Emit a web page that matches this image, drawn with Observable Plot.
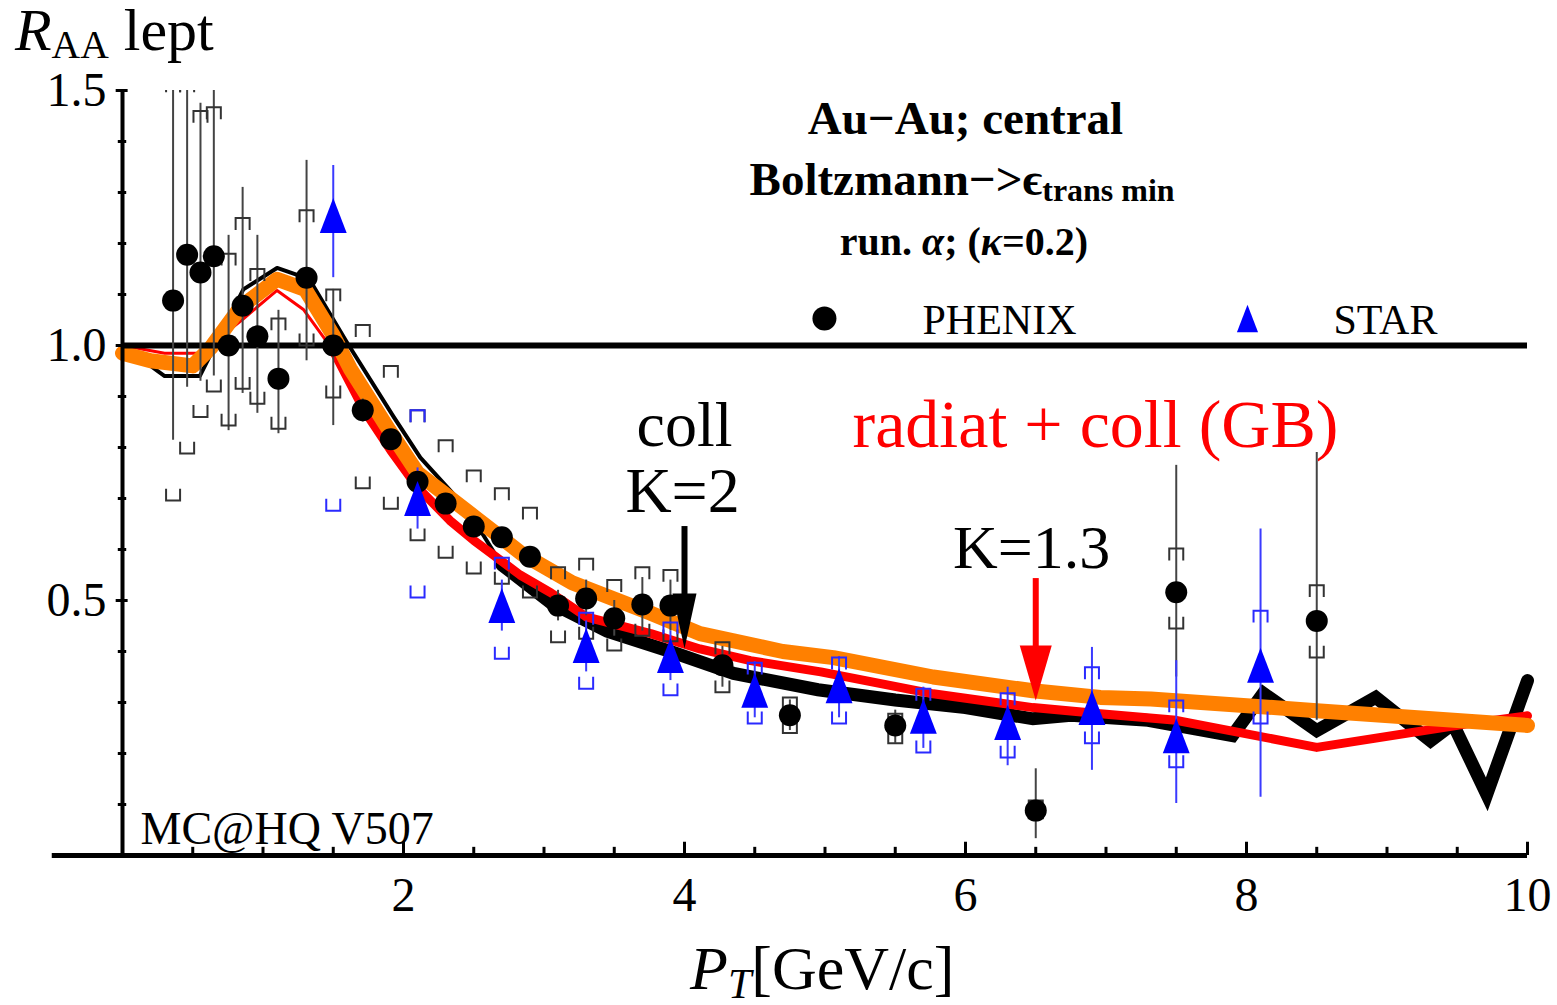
<!DOCTYPE html>
<html>
<head>
<meta charset="utf-8">
<script src="https://cdn.jsdelivr.net/npm/d3@7"></script>
<script src="https://cdn.jsdelivr.net/npm/@observablehq/plot@0.6"></script>
<style>
html,body{margin:0;padding:0;background:#fff;}
#chart{width:1557px;height:1005px;}
</style>
</head>
<body>
<div id="chart"></div>
<script>
// ---------------- data ----------------
// PHENIX (black circles): pT, RAA, statistical low/high, systematic low/high
const phenixX = [0.36,0.46,0.555,0.65,0.755,0.855,0.96,1.11,1.31,1.5,1.71,1.91,2.1,2.3,2.5,2.7,2.9,3.1,3.3,3.5,3.7,3.9,4.27,4.75,5.5,6.5,7.5,8.5];
const phenixY = [1.088,1.178,1.143,1.175,1.0,1.078,1.018,0.935,1.133,1.0,0.873,0.816,0.733,0.69,0.645,0.624,0.586,0.49,0.504,0.465,0.492,0.49,0.373,0.275,0.255,0.088,0.516,0.46];
const phenixStatLo = [0.814,0.918,0.93,0.94,0.833,0.906,0.867,0.827,0.97,0.843,0.85,0.80,0.72,0.68,0.635,0.61,0.575,0.46,0.47,0.43,0.44,0.44,0.33,0.245,0.22,0.033,0.35,0.265];
const phenixStatHi = [1.6,1.6,1.475,1.6,1.216,1.31,1.216,1.069,1.363,1.11,0.895,0.835,0.75,0.70,0.655,0.64,0.60,0.52,0.54,0.50,0.545,0.54,0.41,0.305,0.285,0.17,0.765,0.79];
const phenixSysLo = [0.696,0.788,0.86,0.91,0.843,0.915,0.886,0.837,1.0,0.898,0.72,0.68,0.618,0.584,0.553,0.533,0.506,0.418,0.425,0.402,0.431,0.42,0.32,0.24,0.22,0.073,0.445,0.388];
const phenixSysHi = [1.52,1.52,1.46,1.467,1.18,1.25,1.15,1.053,1.265,1.11,1.04,0.96,0.873,0.814,0.755,0.72,0.682,0.565,0.582,0.54,0.565,0.56,0.418,0.31,0.278,0.108,0.602,0.53];

// STAR (blue triangles)
const starX = [1.5,2.1,2.7,3.3,3.9,4.5,5.1,5.7,6.3,6.9,7.5,8.1];
const starY = [1.255,0.70,0.49,0.412,0.392,0.324,0.333,0.273,0.261,0.29,0.235,0.373];
const starStatLo = [1.133,0.64,0.44,0.36,0.343,0.27,0.27,0.21,0.176,0.167,0.102,0.114];
const starStatHi = [1.353,0.76,0.54,0.46,0.44,0.38,0.39,0.33,0.33,0.408,0.382,0.64];
const starSysLo = [0.676,0.506,0.386,0.327,0.314,0.259,0.259,0.202,0.192,0.22,0.173,0.259];
const starSysHi = [1.83,0.873,0.584,0.476,0.457,0.378,0.388,0.327,0.318,0.369,0.304,0.48];

// model curves
const collX = [0,0.3,0.55,0.86,1.1,1.33,1.6,1.93,2.12,2.45,2.7,3.05,3.45,3.9,4.35,4.95,5.5,6.0,6.48,6.75,7.3,7.9,8.12,8.5,8.92,9.31,9.47,9.71,10];
const collY = [1.0,0.94,0.94,1.11,1.152,1.13,1.005,0.86,0.78,0.68,0.57,0.495,0.44,0.40,0.357,0.325,0.305,0.29,0.268,0.275,0.265,0.235,0.318,0.245,0.31,0.225,0.258,0.12,0.343];
const radX = [0,0.3,0.55,0.85,1.1,1.29,1.5,1.72,1.91,2.1,2.33,2.5,2.83,3.05,3.3,3.76,4.11,4.47,4.97,5.77,6.48,6.96,7.5,8.5,9.57,10];
const radY = [1.0,0.985,0.985,1.05,1.108,1.07,0.99,0.873,0.794,0.722,0.657,0.618,0.55,0.515,0.468,0.435,0.405,0.382,0.36,0.317,0.29,0.278,0.265,0.212,0.258,0.274];
const orangeX = [0,0.2,0.5,0.63,0.84,1.1,1.3,1.5,1.62,1.9,2.1,2.5,2.85,3.2,3.76,4.11,4.7,5.06,5.77,6.48,6.96,7.32,8.5,10];
const orangeY = [0.985,0.97,0.96,0.996,1.075,1.13,1.11,1.02,0.955,0.833,0.75,0.665,0.59,0.535,0.475,0.435,0.40,0.388,0.35,0.323,0.31,0.307,0.284,0.255];

// arrows (pT, start, tip)
const arrowK2 = {x: 4.0, from: 0.645, to: 0.406};
const arrowK13 = {x: 6.5, from: 0.543, to: 0.304};

// axes ticks
const xMajorTicks = [2,4,6,8,10];
const xMinorTicks = [0.5,1,1.5,2.5,3,3.5,4.5,5,5.5,6.5,7,7.5,8.5,9,9.5];
const yMajorTicks = [0.5,1.0,1.5];
const yMinorTicks = [0.1,0.2,0.3,0.4,0.6,0.7,0.8,0.9,1.1,1.2,1.3,1.4];
const xAxisExtent = [-0.5, 10];

// ---------------- build ----------------
const FONT = "'Liberation Serif','Times New Roman',serif";
const rows = (xs, ys) => xs.map((x, i) => ({x, y: ys[i]}));
const phenix = phenixX.map((x, i) => ({x, y: phenixY[i], sLo: phenixStatLo[i], sHi: phenixStatHi[i], yLo: phenixSysLo[i], yHi: phenixSysHi[i]}));
const star = starX.map((x, i) => ({x, y: starY[i], sLo: starStatLo[i], sHi: starStatHi[i], yLo: starSysLo[i], yHi: starSysHi[i]}));
const coll = rows(collX, collY), rad = rows(radX, radY), orange = rows(orangeX, orangeY);

const sym = fn => ({draw(ctx, size) { fn(ctx, Math.sqrt(size / Math.PI)); }});
const triUp = sym((c, r) => { c.moveTo(0, -1.25*r); c.lineTo(0.96*r, 1.25*r); c.lineTo(-0.96*r, 1.25*r); c.closePath(); });
const capTop = sym((c, r) => { c.moveTo(-r, 1.7*r); c.lineTo(-r, 0); c.lineTo(r, 0); c.lineTo(r, 1.7*r); });
const capBot = sym((c, r) => { c.moveTo(-r, -1.7*r); c.lineTo(-r, 0); c.lineTo(r, 0); c.lineTo(r, -1.7*r); });
const head = (w, h) => sym(c => { c.moveTo(0, 0); c.lineTo(-w, -h); c.lineTo(w, -h); c.closePath(); });

// annotation layout (data coordinates)
const notes = [
  {t: "Au\u2212Au; central", x: 6.0, y: 1.445, size: 47, weight: "bold", fill: "black", anchor: "middle"},
  {t: "PHENIX", x: 5.694, y: 1.049, size: 42, weight: "normal", fill: "black", anchor: "start"},
  {t: "STAR", x: 8.619, y: 1.049, size: 42, weight: "normal", fill: "black", anchor: "start"},
  {t: "coll", x: 4.0, y: 0.843, size: 64, weight: "normal", fill: "black", anchor: "middle"},
  {t: "K=2", x: 3.986, y: 0.713, size: 64, weight: "normal", fill: "black", anchor: "middle"},
  {t: "radiat + coll (GB)", x: 6.925, y: 0.843, size: 68, weight: "normal", fill: "#ff0000", anchor: "middle"},
  {t: "K=1.3", x: 6.47, y: 0.603, size: 62, weight: "normal", fill: "black", anchor: "middle"},
  {t: "MC@HQ V507", x: 0.128, y: 0.051, size: 46, weight: "normal", fill: "black", anchor: "start"}
];
const legendPos = {phenix: {x: 4.996, y: 1.053}, star: {x: 8.007, y: 1.053}};

const textMarks = notes.map(n => Plot.text([n], {x: "x", y: "y", text: "t", fontSize: n.size, fontWeight: n.weight, fill: n.fill, textAnchor: n.anchor, fontFamily: FONT}));

const plot = Plot.plot({
  width: 1557, height: 1005,
  marginLeft: 122, marginRight: 30, marginTop: 90, marginBottom: 150,
  x: {domain: [0, 10], label: null},
  y: {domain: [0, 1.5], label: null},
  style: {fontFamily: FONT, background: "white", color: "black", overflow: "visible"},
  marks: [
    // curves
    Plot.line(coll.filter(d => d.x <= 2.7), {x: "x", y: "y", stroke: "black", strokeWidth: 4}),
    Plot.line(coll.filter(d => d.x >= 2.7), {x: "x", y: "y", stroke: "black", strokeWidth: 13, strokeLinejoin: "miter", strokeMiterlimit: 6}),
    Plot.line(rad.filter(d => d.x <= 1.5), {x: "x", y: "y", stroke: "#ff0000", strokeWidth: 3}),
    Plot.line(rad.filter(d => d.x >= 1.5), {x: "x", y: "y", stroke: "#ff0000", strokeWidth: 9}),
    Plot.line(orange, {x: "x", y: "y", stroke: "#ff8000", strokeWidth: 15}),
    // reference line and axes
    Plot.ruleY([1], {stroke: "black", strokeWidth: 6}),
    Plot.ruleY([{y: 0, x1: xAxisExtent[0], x2: xAxisExtent[1]}], {y: "y", x1: "x1", x2: "x2", stroke: "black", strokeWidth: 5}),
    Plot.ruleX([0], {stroke: "black", strokeWidth: 4}),
    Plot.ruleX(xMinorTicks, {x: d => d, y1: 0, y2: 0.016, stroke: "black", strokeWidth: 3}),
    Plot.ruleX(xMajorTicks, {x: d => d, y1: 0, y2: 0.026, stroke: "black", strokeWidth: 3}),
    Plot.ruleY(yMinorTicks, {y: d => d, x1: -0.03, x2: 0.03, stroke: "black", strokeWidth: 3}),
    Plot.ruleY(yMajorTicks, {y: d => d, x1: -0.045, x2: 0.04, stroke: "black", strokeWidth: 3}),
    Plot.axisX({ticks: xMajorTicks, tickSize: 0, tickPadding: 21, fontSize: 48, fontFamily: FONT, tickFormat: d => String(d)}),
    Plot.axisY({ticks: yMajorTicks, tickSize: 0, tickPadding: 16, fontSize: 48, fontFamily: FONT, tickFormat: d3.format(".1f")}),
    // PHENIX error bars
    Plot.ruleX(phenix, {x: "x", y1: "sLo", y2: "sHi", stroke: "#444", strokeWidth: 2, clip: true}),
    Plot.dot(phenix, {x: "x", y: "yHi", symbol: capTop, r: 7, fill: "none", stroke: "#333", strokeWidth: 2, clip: true}),
    Plot.dot(phenix, {x: "x", y: "yLo", symbol: capBot, r: 7, fill: "none", stroke: "#333", strokeWidth: 2, clip: true}),
    // STAR error bars
    Plot.ruleX(star, {x: "x", y1: "sLo", y2: "sHi", stroke: "#3a3aff", strokeWidth: 2, clip: true}),
    Plot.dot(star, {x: "x", y: "yHi", symbol: capTop, r: 7, fill: "none", stroke: "#2a2aff", strokeWidth: 2, clip: true}),
    Plot.dot(star, {x: "x", y: "yLo", symbol: capBot, r: 7, fill: "none", stroke: "#2a2aff", strokeWidth: 2, clip: true}),
    // points
    Plot.dot(phenix, {x: "x", y: "y", r: 11, fill: "black", stroke: "none"}),
    Plot.dot(star, {x: "x", y: "y", symbol: triUp, r: 14, fill: "#0000ff", stroke: "none"}),
    // legend
    Plot.dot([legendPos.phenix], {x: "x", y: "y", r: 12, fill: "black", stroke: "none"}),
    Plot.dot([legendPos.star], {x: "x", y: "y", symbol: triUp, r: 11, fill: "#0000ff", stroke: "none"}),
    // arrows
    Plot.ruleX([arrowK2], {x: "x", y1: "from", y2: d => d.to + 0.05, stroke: "black", strokeWidth: 6}),
    Plot.dot([arrowK2], {x: "x", y: "to", symbol: head(12, 55), r: 10, fill: "black", stroke: "none"}),
    Plot.ruleX([arrowK13], {x: "x", y1: "from", y2: d => d.to + 0.05, stroke: "#ff0000", strokeWidth: 6}),
    Plot.dot([arrowK13], {x: "x", y: "to", symbol: head(16, 55), r: 10, fill: "#ff0000", stroke: "none"}),
    ...textMarks
  ]
});

document.getElementById("chart").appendChild(plot);

// rich text (sub/italic) placed through the plot's own scales
const xs = plot.scale("x"), ys = plot.scale("y");
function rich(parts, {x, y, size, anchor = "start", weight = "normal", subScale = 0.68, subShift = 0.18}) {
  const t = d3.select(plot).append("text")
    .attr("x", xs.apply(x)).attr("y", ys.apply(y))
    .attr("font-family", FONT).attr("font-size", size).attr("font-weight", weight)
    .attr("text-anchor", anchor).attr("fill", "black");
  let shift = 0;
  for (const p of parts) {
    const ts = t.append("tspan").text(p.t);
    const want = p.sub ? size * subShift : 0;
    if (want !== shift) { ts.attr("dy", want - shift); shift = want; }
    if (p.sub) ts.attr("font-size", size * subScale);
    if (p.italic) ts.attr("font-style", "italic");
  }
}
rich([{t: "R", italic: true}, {t: "AA", sub: true}, {t: " lept"}], {x: -0.762, y: 1.578, size: 60, subScale: 0.66, subShift: 0.13});
rich([{t: "P", italic: true}, {t: "T", sub: true, italic: true}, {t: "[GeV/c]"}], {x: 4.043, y: -0.262, size: 62, subScale: 0.68, subShift: 0.15});
rich([{t: "Boltzmann\u2212>\u03f5"}, {t: "trans min", sub: true}], {x: 5.979, y: 1.294, size: 47, anchor: "middle", weight: "bold", subScale: 0.68, subShift: 0.13});
rich([{t: "run. "}, {t: "\u03b1", italic: true}, {t: "; ("}, {t: "\u03ba", italic: true}, {t: "=0.2)"}], {x: 5.993, y: 1.176, size: 40, anchor: "middle", weight: "bold"});
</script>
</body>
</html>
